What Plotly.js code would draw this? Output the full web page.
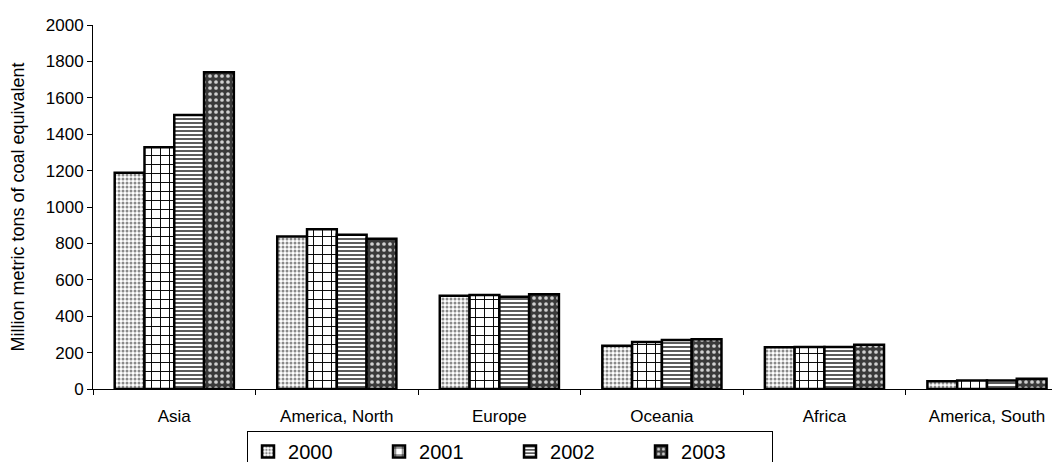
<!DOCTYPE html>
<html>
<head>
<meta charset="utf-8">
<script src="https://cdn.plot.ly/plotly-3.0.1.min.js"></script>
<style>html,body{margin:0;padding:0;background:#fff;}#chart{width:1052px;height:462px;}</style>
</head>
<body>
<div id="chart"></div>
<script>
var regions = ["Asia", "America, North", "Europe", "Oceania", "Africa", "America, South"];
var years = ["2000", "2001", "2002", "2003"];
var v2000 = [1188, 838, 513, 238, 229, 42];
var v2001 = [1328, 878, 516, 258, 231, 47];
var v2002 = [1505, 848, 507, 269, 231, 47];
var v2003 = [1740, 826, 520, 273, 243, 56];
var yTitle = "Million metric tons of coal equivalent";

var series = [v2000, v2001, v2002, v2003];
var patterns = [
  {shape: ".", fgcolor: "#8a8a8a", bgcolor: "#ffffff", size: 4, solidity: 0.45},
  {shape: "+", fgcolor: "#000000", bgcolor: "#ffffff", size: 9, solidity: 0.2},
  {shape: "-", fgcolor: "#4a4a4a", bgcolor: "#ffffff", size: 4, solidity: 0.45},
  {shape: ".", fgcolor: "#d0d0d0", bgcolor: "#3a3a3a", size: 6, solidity: 0.3}
];
var font = "Liberation Sans, Arial, sans-serif";

var traces = years.map(function (yr, i) {
  return {
    type: "bar",
    name: yr,
    x: regions,
    y: series[i],
    marker: {
      color: patterns[i].bgcolor,
      pattern: patterns[i],
      line: {color: "#000000", width: 2.5}
    },
    hoverinfo: "x+y+name"
  };
});

var layout = {
  width: 1052,
  height: 462,
  margin: {l: 93, r: 0, t: 25, b: 73, autoexpand: false},
  paper_bgcolor: "#ffffff",
  plot_bgcolor: "#ffffff",
  barmode: "group",
  bargap: 0.267,
  bargroupgap: 0,
  font: {family: font, color: "#000000", size: 17},
  xaxis: {
    type: "category",
    range: [-0.5, 5.4],
    tickson: "boundaries",
    ticks: "outside",
    ticklen: 5,
    tickcolor: "#000000",
    showline: true,
    linecolor: "#000000",
    linewidth: 1,
    showgrid: false,
    zeroline: false,
    tickfont: {family: font, size: 17, color: "#000000"},
    ticklabelstandoff: 12
  },
  yaxis: {
    range: [0, 2000],
    dtick: 200,
    ticks: "outside",
    ticklen: 5,
    tickcolor: "#000000",
    showline: true,
    linecolor: "#000000",
    linewidth: 1,
    showgrid: false,
    zeroline: false,
    tickfont: {family: font, size: 17, color: "#000000"},
    title: {text: yTitle, font: {family: font, size: 18, color: "#000000"}, standoff: 16}
  },
  showlegend: true,
  legend: {
    orientation: "h",
    x: 0.1606,
    xanchor: "left",
    y: -0.1154,
    yanchor: "top",
    bordercolor: "#000000",
    borderwidth: 1,
    bgcolor: "#ffffff",
    font: {family: font, size: 20, color: "#000000"},
    entrywidth: 86,
    entrywidthmode: "pixels",
    traceorder: "normal"
  }
};

Plotly.newPlot("chart", traces, layout, {displayModeBar: false, staticPlot: true});
</script>
</body>
</html>
